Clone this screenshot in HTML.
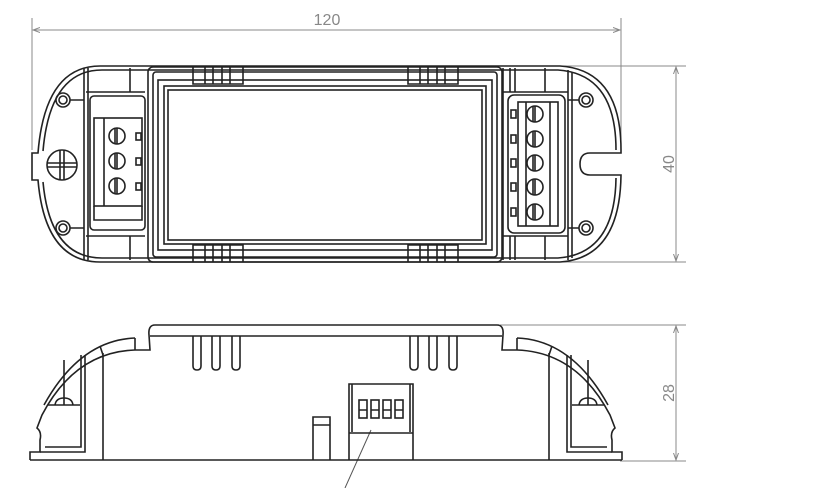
<!DOCTYPE html>
<html><head><meta charset="utf-8"><style>
html,body{margin:0;padding:0;background:#fff;}
svg{display:block;}
text{font-family:"Liberation Sans",sans-serif;fill:#888;font-size:16px;}
</style></head><body>
<svg width="819" height="488" viewBox="0 0 819 488" xmlns="http://www.w3.org/2000/svg">
<defs>
<marker id="a" markerWidth="8" markerHeight="8" refX="7" refY="4" orient="auto-start-reverse" markerUnits="userSpaceOnUse"><path d="M0,1.5 L7,4 L0,6.5" fill="none" stroke="#888" stroke-width="1"/></marker>
</defs>
<g stroke="#888" stroke-width="1" fill="none">
<line x1="32" y1="18" x2="32" y2="150"/>
<line x1="621" y1="18" x2="621" y2="150"/>
<line x1="33" y1="30" x2="620" y2="30" marker-start="url(#a)" marker-end="url(#a)"/>
<line x1="560" y1="66" x2="686" y2="66"/>
<line x1="560" y1="262" x2="686" y2="262"/>
<line x1="676" y1="67" x2="676" y2="261" marker-start="url(#a)" marker-end="url(#a)"/>
<line x1="500" y1="325" x2="686" y2="325"/>
<line x1="620" y1="461" x2="686" y2="461"/>
<line x1="676" y1="326" x2="676" y2="460" marker-start="url(#a)" marker-end="url(#a)"/>
<line x1="371" y1="430" x2="345" y2="488" stroke="#555"/>
</g>
<text x="327" y="25" text-anchor="middle">120</text>
<text transform="translate(674,164) rotate(-90)" text-anchor="middle">40</text>
<text transform="translate(674,393) rotate(-90)" text-anchor="middle">28</text>

<g stroke="#222" stroke-width="1.6" fill="none">
<path d="M100,66 L560,66 Q621,70 621,150 L621,153 L590,153 Q580,153 580,164 Q580,175 590,175 L621,175 Q620,258 560,262 L100,262 Q45,262 38,180 L32,180 L32,153 L38,153 Q45,66 100,66 Z"/>
<path d="M102,70 L558,70 Q616,74 616,150 M616,178 Q615,254 558,258 L102,258 Q50,258 43,182 M43,151 Q50,70 102,70"/>
<rect x="148" y="67" width="354" height="195" rx="5"/>
<rect x="153" y="72" width="344" height="185" rx="3"/>
<rect x="158" y="80" width="334" height="170"/>
<rect x="164" y="86" width="322" height="158"/>
<rect x="168" y="90" width="314" height="150"/>
<g>
<path d="M193,67 V84 H243 V67 M205,67 V84 M213,67 V84 M222,67 V84 M230,67 V84"/>
<path d="M408,67 V84 H458 V67 M420,67 V84 M428,67 V84 M437,67 V84 M445,67 V84"/>
<path d="M193,262 V245 H243 V262 M205,262 V245 M213,262 V245 M222,262 V245 M230,262 V245"/>
<path d="M408,262 V245 H458 V262 M420,262 V245 M428,262 V245 M437,262 V245 M445,262 V245"/>
</g>
<path d="M84,68 V260 M88,68 V260 M130,68 V92 M130,236 V260 M86,92 H145 M86,236 H145"/>
<rect x="90" y="96" width="55" height="134" rx="4"/>
<rect x="94" y="118" width="48" height="88"/>
<path d="M94,206 V220 H142 V206 M104,118 V206"/>
<g>
<circle cx="117" cy="136" r="8"/><line x1="117" y1="128" x2="117" y2="144"/><line x1="115" y1="128" x2="115" y2="144"/>
<circle cx="117" cy="161" r="8"/><line x1="117" y1="153" x2="117" y2="169"/><line x1="115" y1="153" x2="115" y2="169"/>
<circle cx="117" cy="186" r="8"/><line x1="117" y1="178" x2="117" y2="194"/><line x1="115" y1="178" x2="115" y2="194"/>
</g>
<rect x="136" y="133" width="5" height="7"/><rect x="136" y="158" width="5" height="7"/><rect x="136" y="183" width="5" height="7"/>
<circle cx="63" cy="100" r="7"/><circle cx="63" cy="100" r="4"/>
<circle cx="63" cy="228" r="7"/><circle cx="63" cy="228" r="4"/>
<path d="M70,100 H84 M70,228 H84"/>
<circle cx="62" cy="165" r="15"/>
<path d="M47,163 H77 M47,167 H77 M60,150 V180 M64,150 V180"/>
<path d="M503,68 V260 M510,68 V92 M515,68 V92 M510,236 V260 M515,236 V260 M545,68 V92 M545,236 V260 M568,70 V260 M572,72 V258 M503,92 H568 M503,236 H568"/>
<rect x="508" y="95" width="57" height="138" rx="6"/>
<rect x="518" y="102" width="40" height="124"/>
<path d="M550,102 V226 M526,102 V226"/>
<g>
<circle cx="535" cy="114" r="8"/><line x1="535" y1="106" x2="535" y2="122"/><line x1="533" y1="106" x2="533" y2="122"/>
<circle cx="535" cy="139" r="8"/><line x1="535" y1="131" x2="535" y2="147"/><line x1="533" y1="131" x2="533" y2="147"/>
<circle cx="535" cy="163" r="8"/><line x1="535" y1="155" x2="535" y2="171"/><line x1="533" y1="155" x2="533" y2="171"/>
<circle cx="535" cy="187" r="8"/><line x1="535" y1="179" x2="535" y2="195"/><line x1="533" y1="179" x2="533" y2="195"/>
<circle cx="535" cy="212" r="8"/><line x1="535" y1="204" x2="535" y2="220"/><line x1="533" y1="204" x2="533" y2="220"/>
</g>
<rect x="511" y="110" width="5" height="8"/><rect x="511" y="135" width="5" height="8"/><rect x="511" y="159" width="5" height="8"/><rect x="511" y="183" width="5" height="8"/><rect x="511" y="208" width="5" height="8"/>
<circle cx="586" cy="100" r="7"/><circle cx="586" cy="100" r="4"/>
<circle cx="586" cy="228" r="7"/><circle cx="586" cy="228" r="4"/>
<path d="M568,100 H579 M568,228 H579"/>

<path d="M30,460 H622"/>
<path d="M155,325 H497 M150,336 H502"/>
<path d="M155,325 Q148,325 149,335 L150,350 H135 Q75,352 42,415 L37,428 Q42,432 40,440 L40,452 H30 V460"/>
<path d="M497,325 Q504,325 503,335 L502,350 H517 Q577,352 610,415 L615,428 Q610,432 612,440 L612,452 H622 V460"/>
<path d="M135,338 Q80,340 44,405 M517,338 Q572,340 608,405"/>
<path d="M135,338 V350 M517,338 V350 M100,346 L103,355 M552,346 L549,355"/>
<path d="M103,353 V460 M549,353 V460"/>
<path d="M40,452 H85 V355 M81,355 V447 H45"/>
<path d="M612,452 H567 V355 M571,355 V447 H607"/>
<path d="M48,405 H80 M572,405 H604"/>
<path d="M64,405 V360 M588,405 V360"/>
<path d="M55,405 Q56,398 64,398 Q72,398 73,405 M579,405 Q580,398 588,398 Q596,398 597,405"/>
<g>
<path d="M193,336 V366 Q193,370 197,370 Q201,370 201,366 V336"/>
<path d="M212,336 V366 Q212,370 216,370 Q220,370 220,366 V336"/>
<path d="M232,336 V366 Q232,370 236,370 Q240,370 240,366 V336"/>
<path d="M410,336 V366 Q410,370 414,370 Q418,370 418,366 V336"/>
<path d="M429,336 V366 Q429,370 433,370 Q437,370 437,366 V336"/>
<path d="M449,336 V366 Q449,370 453,370 Q457,370 457,366 V336"/>
</g>
<path d="M349,460 V384 H413 V460 M352,384 V432 M410,384 V432 M349,433 H413"/>
<rect x="359" y="400" width="8" height="18"/><rect x="371" y="400" width="8" height="18"/><rect x="383" y="400" width="8" height="18"/><rect x="395" y="400" width="8" height="18"/>
<path d="M359,410 H367 M371,410 H379 M383,410 H391 M395,410 H403"/>
<path d="M313,460 V417 H330 V460 M313,425 H330"/>
</g>
</svg>
</body></html>
